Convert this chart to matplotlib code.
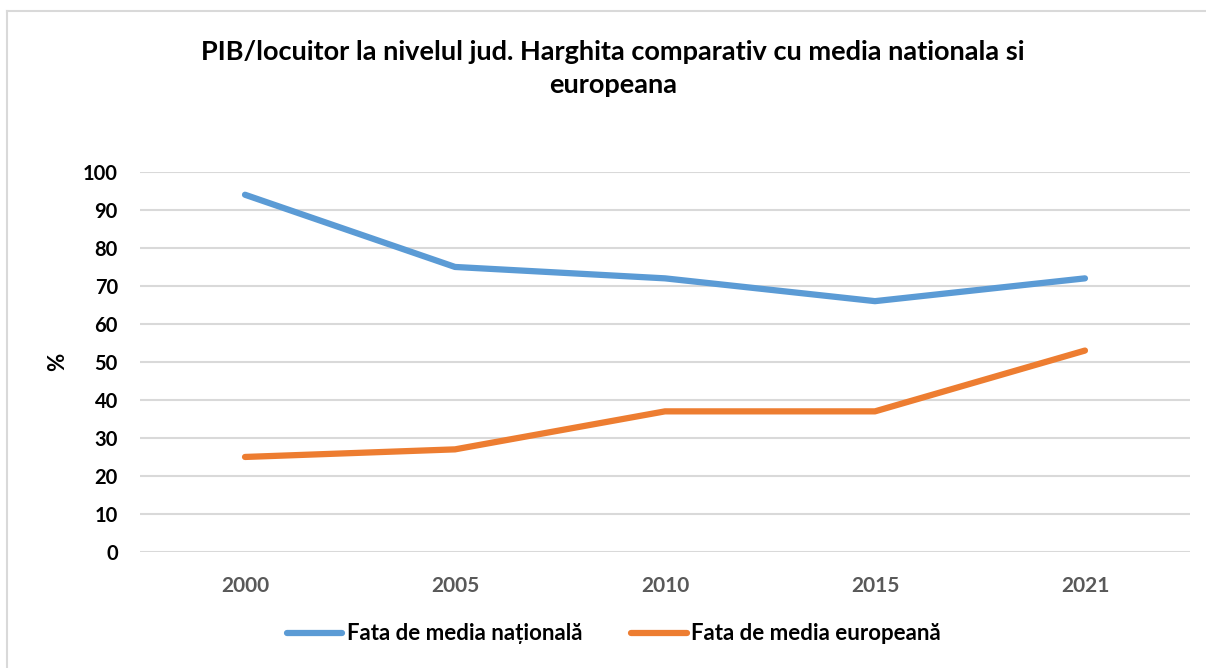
import matplotlib.pyplot as plt
from matplotlib.lines import Line2D
from matplotlib import rcParams

rcParams['font.family'] = ['Lato', 'DejaVu Sans']
rcParams['font.weight'] = 'bold'

years = ['2000', '2005', '2010', '2015', '2021']
national = [94, 75, 72, 66, 72]
european = [25, 27, 37, 37, 53]
yticks = list(range(0, 101, 10))
title_lines = ['PIB/locuitor la nivelul jud. Harghita comparativ cu media nationala si',
               'europeana']

blue = '#5B9BD5'
orange = '#ED7D31'
grid_col = '#D9D9D9'

fig = plt.figure(figsize=(12.06, 6.68), dpi=100)
ax = fig.add_axes([0.1161, 0.1737, 0.8706, 0.5689])

x = list(range(len(years)))
ax.plot(x, national, color=blue, lw=4.5, solid_capstyle='round',
        solid_joinstyle='round', label='Fata de media națională', zorder=3)
ax.plot(x, european, color=orange, lw=4.5, solid_capstyle='round',
        solid_joinstyle='round', label='Fata de media europeană', zorder=3)

ax.set_xlim(-0.5, len(years) - 0.5)
ax.set_ylim(0, 100)
ax.set_yticks(yticks)
ax.set_xticks(x)
ax.set_xticklabels(years)
ax.grid(axis='y', color=grid_col, lw=1.5)
ax.set_axisbelow(True)
for s in ax.spines.values():
    s.set_visible(False)
ax.tick_params(length=0)
ax.tick_params(axis='y', labelsize=14.5, labelcolor='black', pad=16)
ax.tick_params(axis='x', labelsize=15, labelcolor='#595959', pad=17)

fig.text(58 / 1206, 1 - 362 / 668, '%', rotation=90, ha='center', va='center',
         fontsize=16, fontweight='bold')

# two-line title, baselines placed separately
fig.text(0.508, 1 - 60 / 668, title_lines[0], ha='center', va='baseline',
         fontsize=19.5, fontweight='bold')
fig.text(0.508, 1 - 93 / 668, title_lines[1], ha='center', va='baseline',
         fontsize=19.5, fontweight='bold')

leg = fig.legend(loc='center', bbox_to_anchor=(0.509, 0.051), ncol=2,
                 frameon=False, fontsize=16, handlelength=2.5,
                 handletextpad=0.2, columnspacing=2.2)

# chart area border (top and left edges visible)
fig.add_artist(Line2D([0.0062, 1.0], [0.9835, 0.9835], color=grid_col, lw=1.5,
                      transform=fig.transFigure))
fig.add_artist(Line2D([0.0062, 0.0062], [0.0, 0.9835], color=grid_col, lw=1.5,
                      transform=fig.transFigure))

fig.savefig('out.png', dpi=100)
